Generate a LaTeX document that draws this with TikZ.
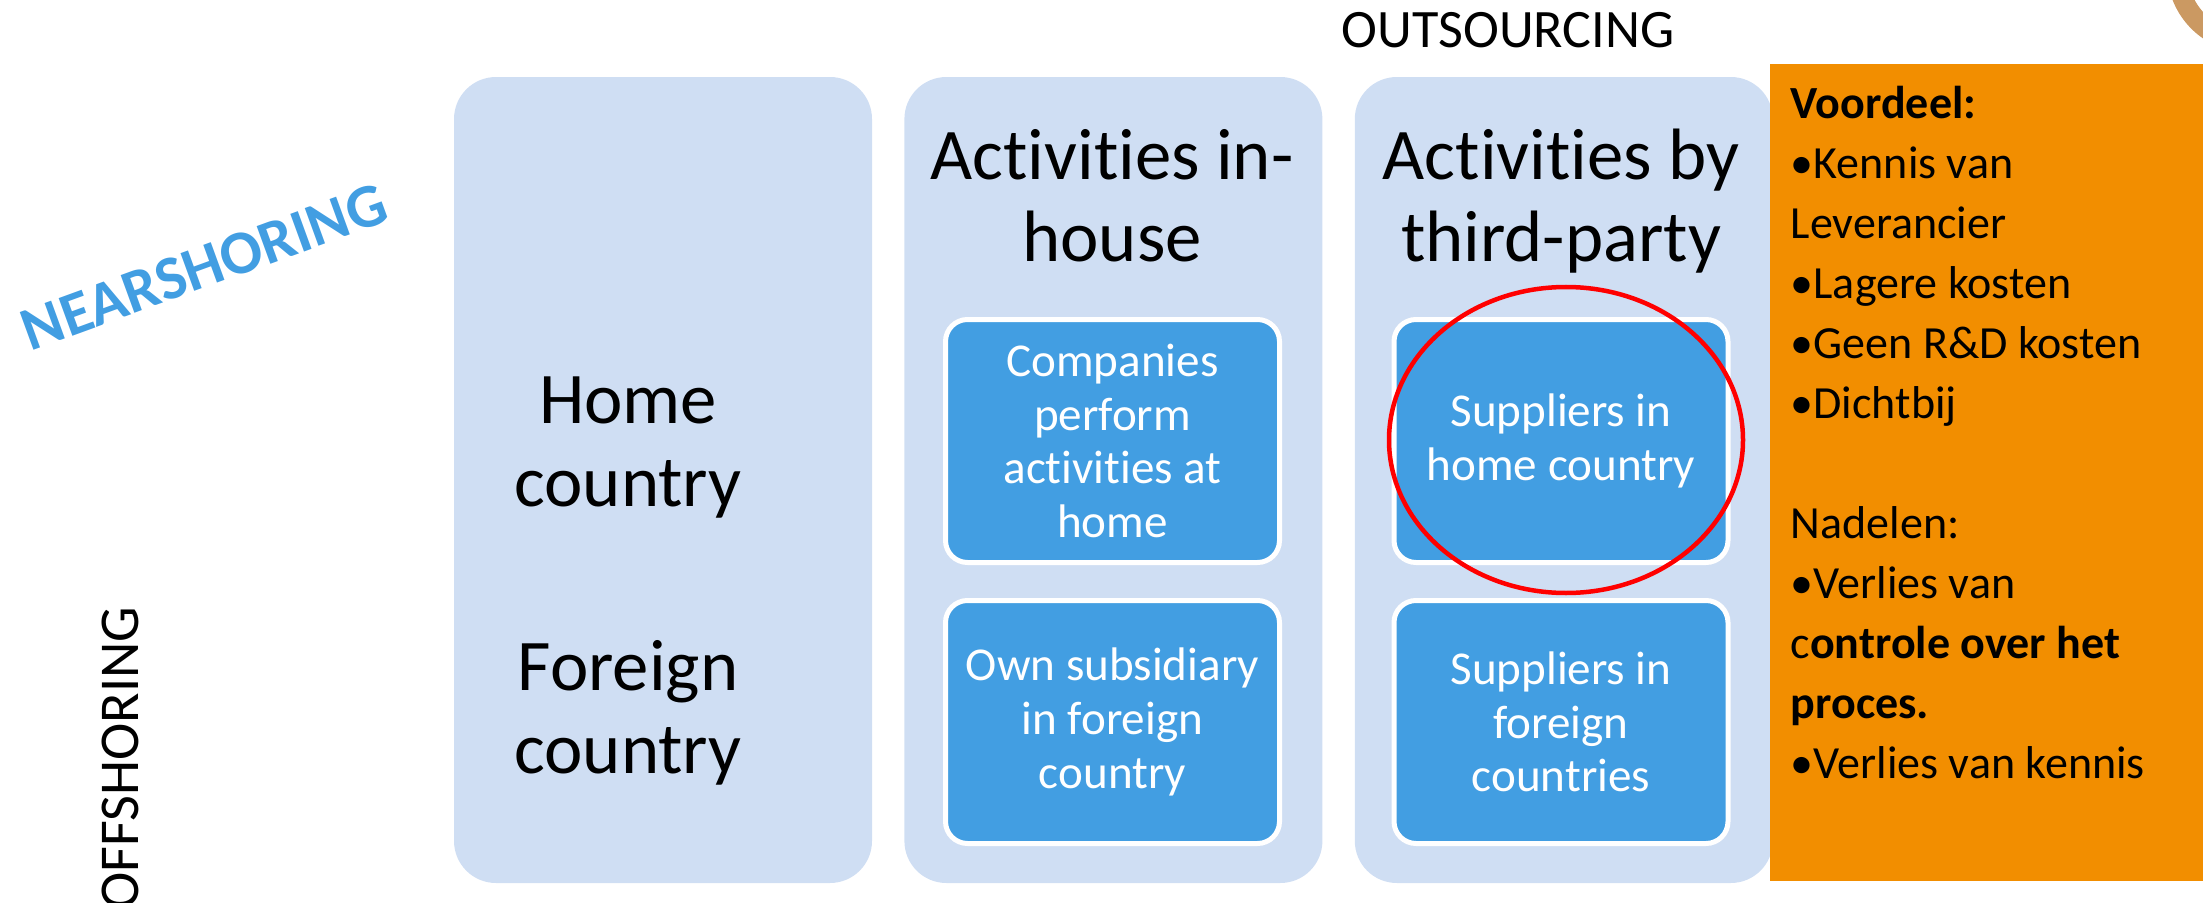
\documentclass[tikz,border=0pt]{standalone}
\usepackage{fontspec}
\setmainfont{Carlito}[Ligatures={NoCommon}]
\usetikzlibrary{calc, positioning}

\definecolor{colblue}{RGB}{207,222,243}
\definecolor{boxblue}{RGB}{66,158,226}
\definecolor{proorange}{RGB}{242,142,0}
\definecolor{ringtan}{RGB}{203,153,98}

\tikzset{
  column/.style={fill=colblue,rounded corners=4.2mm,minimum width=41.8mm,
    minimum height=80.6mm,inner sep=0pt},
  actbox/.style={draw=white,line width=0.5mm,fill=boxblue,rounded corners=2.2mm,
    minimum width=33.4mm,minimum height=24.3mm,inner sep=0pt,text=white,
    align=center,font=\fontsize{13.4}{15.3}\selectfont},
  head/.style={anchor=base,align=center,inner sep=0pt,
    font=\fontsize{20.7}{23.5}\selectfont}
}

\begin{document}
\begin{tikzpicture}[x=0.1mm,y=-0.1mm]
\useasboundingbox (0,0) rectangle (2203,903);
% Ring cut off in the corner
\draw[ringtan,line width=2mm] (2250,-30) circle [radius=73];
% The three columns
\node[column] (home) at (663,480) {};
\node[column,right=3.1mm of home] (inhouse) {};
\node[column,right=3.1mm of inhouse] (third) {};
% Boxes inside the columns
\node[actbox] (ownhome) at (1112.5,441) {Companies\\perform\\activities at\\home};
\node[actbox] (ownforeign) at (1112.5,722) {Own subsidiary\\in foreign\\country};
\node[actbox] (suphome) at (1561,441) {Suppliers in\\home country};
\node[actbox] (supforeign) at (1561,722) {Suppliers in\\foreign\\countries};
% Red ring round the chosen box
\draw[red,line width=0.45mm] (1566,440) ellipse [x radius=177,y radius=153];
% Pros and cons
\node[fill=proorange,anchor=north west,minimum width=44mm,minimum height=81.7mm,
  inner sep=0pt] (pros) at (1769,63) {};
\node[anchor=base west,align=left,inner sep=0pt,
  font=\fontsize{13.1}{17.05}\selectfont] (proslist) at (1790,778)
  {\textbf{Voordeel:}\\•Kennis van\\Leverancier\\•Lagere kosten\\•Geen R\&D kosten\\
   •Dichtbij\\[17.05pt]Nadelen:\\•Verlies van\\c\textbf{ontrole over het}\\
   \textbf{proces.}\\•Verlies van kennis};
% Row and column labels (base is the last line)
\node[head] (homelbl) at (628,506) {Home\\country};
\node[head] (foreignlbl) at (628,773) {Foreign\\country};
\node[head] (inhouselbl) at (1112,262) {Activities in-\\house};
\node[head] (thirdlbl) at (1561,262) {Activities by\\third-party};
% Labels round the grid
\node[anchor=base,inner sep=0pt,font=\fontsize{15.4}{18}\selectfont] (outs) at (1508,48) {OUTSOURCING};
\node[rotate=90,anchor=base west,inner sep=0pt,font=\fontsize{16}{19}\selectfont] (offs) at (138,910) {OFFSHORING};
\node[rotate=20,inner sep=0pt,text=boxblue,font=\bfseries\fontsize{17.6}{20}\selectfont] (nears) at (204,267) {NEARSHORING};
\end{tikzpicture}
\end{document}
